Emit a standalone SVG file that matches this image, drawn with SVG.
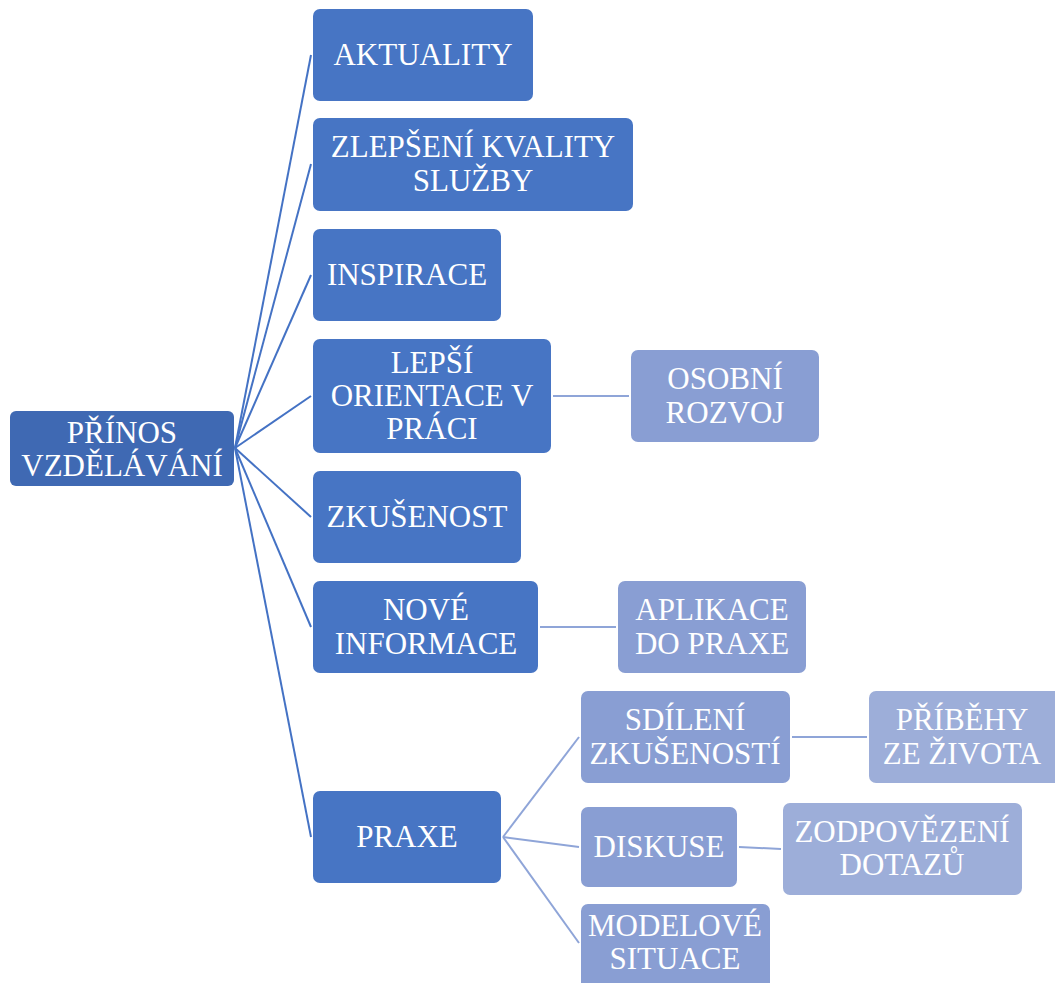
<svg xmlns="http://www.w3.org/2000/svg" width="1055" height="983" viewBox="0 0 1055 983">
<rect width="1055" height="983" fill="#ffffff"/>
<g id="connectors" fill="none" stroke-width="2">
<line stroke="#4472C4" x1="235" y1="448" x2="311" y2="55"/>
<line stroke="#4472C4" x1="235" y1="448" x2="311" y2="164"/>
<line stroke="#4472C4" x1="235" y1="448" x2="311" y2="275"/>
<line stroke="#4472C4" x1="235" y1="448" x2="311" y2="396"/>
<line stroke="#4472C4" x1="235" y1="448" x2="311" y2="517"/>
<line stroke="#4472C4" x1="235" y1="448" x2="311" y2="627"/>
<line stroke="#4472C4" x1="235" y1="448" x2="311" y2="837"/>
<line stroke="#8FA5D8" x1="553" y1="396" x2="629" y2="396"/>
<line stroke="#8FA5D8" x1="540" y1="627" x2="616" y2="627"/>
<line stroke="#8FA5D8" x1="503" y1="837" x2="579" y2="737"/>
<line stroke="#8FA5D8" x1="503" y1="837" x2="579" y2="847"/>
<line stroke="#8FA5D8" x1="503" y1="837" x2="579" y2="943"/>
<line stroke="#8FA5D8" x1="792" y1="737" x2="867" y2="737"/>
<line stroke="#8FA5D8" x1="739" y1="847" x2="781" y2="849"/>
</g>
<g id="n-root">
<rect fill="#3F69B3" x="10" y="411" width="224" height="75" rx="6"/>
<text fill="#ffffff" text-anchor="middle" font-family="Liberation Serif, serif" font-size="31" x="122" y="443">PŘÍNOS</text>
<text fill="#ffffff" text-anchor="middle" font-family="Liberation Serif, serif" font-size="31" x="122" y="476">VZDĚLÁVÁNÍ</text>
</g>
<g id="n-aktuality">
<rect fill="#4775C4" x="313" y="9" width="220" height="92" rx="7"/>
<text fill="#ffffff" text-anchor="middle" font-family="Liberation Serif, serif" font-size="31" x="423" y="65">AKTUALITY</text>
</g>
<g id="n-zlepseni">
<rect fill="#4775C4" x="313" y="118" width="320" height="93" rx="7"/>
<text fill="#ffffff" text-anchor="middle" font-family="Liberation Serif, serif" font-size="31" x="473" y="157">ZLEPŠENÍ KVALITY</text>
<text fill="#ffffff" text-anchor="middle" font-family="Liberation Serif, serif" font-size="31" x="473" y="191">SLUŽBY</text>
</g>
<g id="n-inspirace">
<rect fill="#4775C4" x="313" y="229" width="188" height="92" rx="7"/>
<text fill="#ffffff" text-anchor="middle" font-family="Liberation Serif, serif" font-size="31" x="407" y="285">INSPIRACE</text>
</g>
<g id="n-lepsi">
<rect fill="#4775C4" x="313" y="339" width="238" height="114" rx="7"/>
<text fill="#ffffff" text-anchor="middle" font-family="Liberation Serif, serif" font-size="31" x="432" y="373">LEPŠÍ</text>
<text fill="#ffffff" text-anchor="middle" font-family="Liberation Serif, serif" font-size="31" x="432" y="406">ORIENTACE V</text>
<text fill="#ffffff" text-anchor="middle" font-family="Liberation Serif, serif" font-size="31" x="432" y="439">PRÁCI</text>
</g>
<g id="n-zkusenost">
<rect fill="#4775C4" x="313" y="471" width="208" height="92" rx="7"/>
<text fill="#ffffff" text-anchor="middle" font-family="Liberation Serif, serif" font-size="31" x="417" y="527">ZKUŠENOST</text>
</g>
<g id="n-nove">
<rect fill="#4775C4" x="313" y="581" width="225" height="92" rx="7"/>
<text fill="#ffffff" text-anchor="middle" font-family="Liberation Serif, serif" font-size="31" x="426" y="620">NOVÉ</text>
<text fill="#ffffff" text-anchor="middle" font-family="Liberation Serif, serif" font-size="31" x="426" y="654">INFORMACE</text>
</g>
<g id="n-praxe">
<rect fill="#4775C4" x="313" y="791" width="188" height="92" rx="7"/>
<text fill="#ffffff" text-anchor="middle" font-family="Liberation Serif, serif" font-size="31" x="407" y="847">PRAXE</text>
</g>
<g id="n-osobni">
<rect fill="#899ED3" x="631" y="350" width="188" height="92" rx="7"/>
<text fill="#ffffff" text-anchor="middle" font-family="Liberation Serif, serif" font-size="31" x="725" y="389">OSOBNÍ</text>
<text fill="#ffffff" text-anchor="middle" font-family="Liberation Serif, serif" font-size="31" x="725" y="423">ROZVOJ</text>
</g>
<g id="n-aplikace">
<rect fill="#899ED3" x="618" y="581" width="188" height="92" rx="7"/>
<text fill="#ffffff" text-anchor="middle" font-family="Liberation Serif, serif" font-size="31" x="712" y="620">APLIKACE</text>
<text fill="#ffffff" text-anchor="middle" font-family="Liberation Serif, serif" font-size="31" x="712" y="654">DO PRAXE</text>
</g>
<g id="n-sdileni">
<rect fill="#899ED3" x="581" y="691" width="209" height="92" rx="7"/>
<text fill="#ffffff" text-anchor="middle" font-family="Liberation Serif, serif" font-size="31" x="685" y="730">SDÍLENÍ</text>
<text fill="#ffffff" text-anchor="middle" font-family="Liberation Serif, serif" font-size="31" x="685" y="764">ZKUŠENOSTÍ</text>
</g>
<g id="n-diskuse">
<rect fill="#899ED3" x="581" y="807" width="156" height="80" rx="7"/>
<text fill="#ffffff" text-anchor="middle" font-family="Liberation Serif, serif" font-size="31" x="659" y="857">DISKUSE</text>
</g>
<g id="n-modelove">
<rect fill="#899ED3" x="581" y="904" width="189" height="92" rx="7"/>
<text fill="#ffffff" text-anchor="middle" font-family="Liberation Serif, serif" font-size="31" x="675" y="936">MODELOVÉ</text>
<text fill="#ffffff" text-anchor="middle" font-family="Liberation Serif, serif" font-size="31" x="675" y="969">SITUACE</text>
</g>
<g id="n-pribehy">
<rect fill="#9DAED9" x="869" y="691" width="200" height="92" rx="7"/>
<text fill="#ffffff" text-anchor="middle" font-family="Liberation Serif, serif" font-size="31" x="962" y="730">PŘÍBĚHY</text>
<text fill="#ffffff" text-anchor="middle" font-family="Liberation Serif, serif" font-size="31" x="962" y="764">ZE ŽIVOTA</text>
</g>
<g id="n-zodpovezeni">
<rect fill="#9DAED9" x="783" y="803" width="239" height="92" rx="7"/>
<text fill="#ffffff" text-anchor="middle" font-family="Liberation Serif, serif" font-size="31" x="902" y="842">ZODPOVĚZENÍ</text>
<text fill="#ffffff" text-anchor="middle" font-family="Liberation Serif, serif" font-size="31" x="902" y="875">DOTAZŮ</text>
</g>
</svg>
